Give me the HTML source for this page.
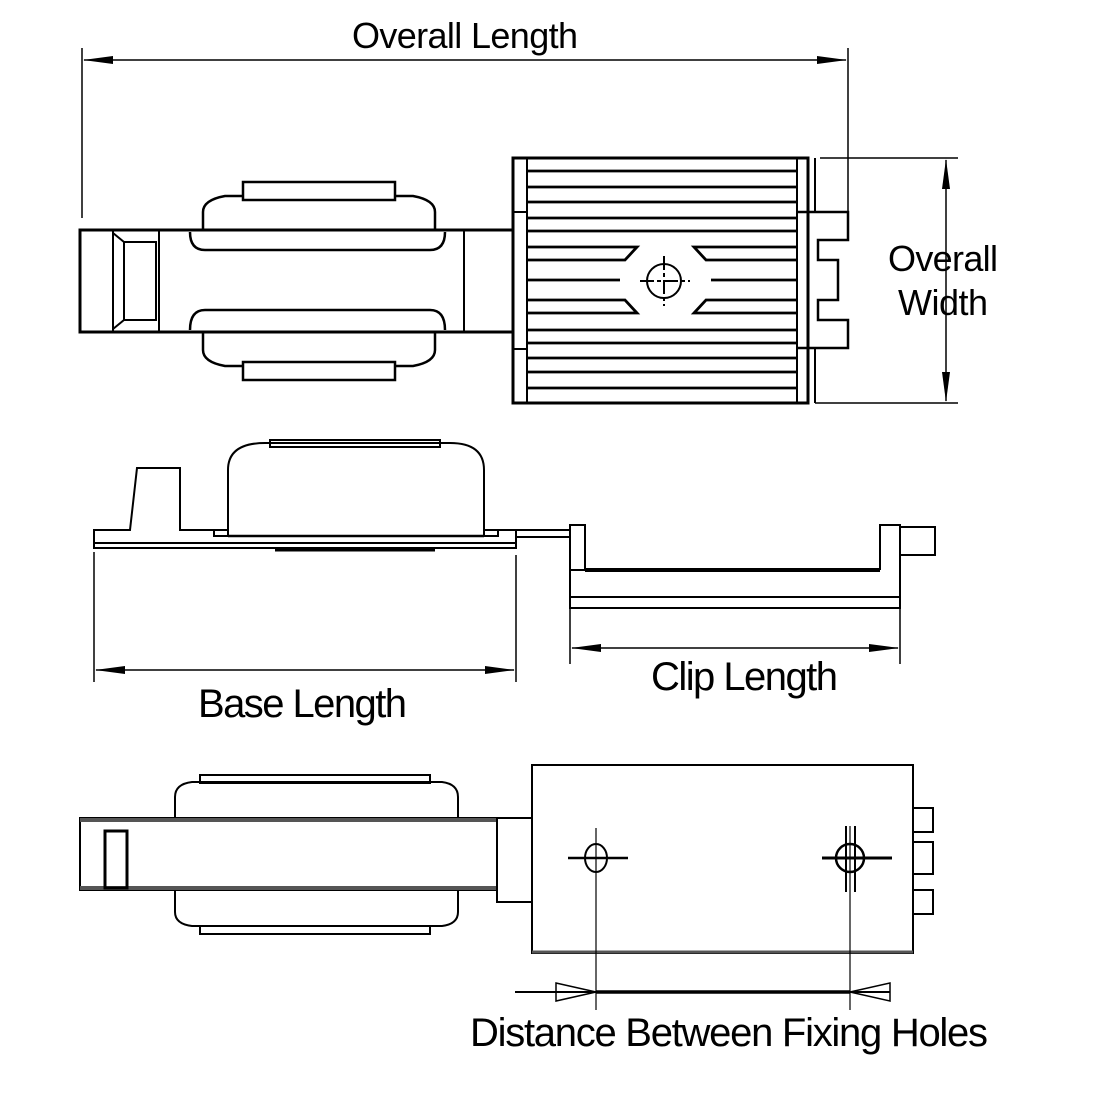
<!DOCTYPE html>
<html><head><style>html,body{margin:0;padding:0;background:#fff}svg{display:block}</style></head>
<body>
<svg width="1100" height="1100" viewBox="0 0 1100 1100" xmlns="http://www.w3.org/2000/svg" font-family="Liberation Sans, sans-serif" fill="none" stroke="#000" stroke-width="2">
<defs>
<marker id="a" markerWidth="30" markerHeight="10" refX="29" refY="5" orient="auto-start-reverse" markerUnits="userSpaceOnUse"><path d="M0,1 L30,5 L0,9 Z" fill="#000" stroke="none"/></marker>
</defs>
<line x1="82" y1="48" x2="82" y2="218" stroke-width="1.5"/>
<line x1="848" y1="48" x2="848" y2="212" stroke-width="1.5"/>
<line x1="84" y1="60" x2="846" y2="60" stroke-width="1.5" marker-start="url(#a)" marker-end="url(#a)"/>
<text x="352" y="48" font-size="36" fill="#000" stroke="none" textLength="226">Overall Length</text>
<line x1="820" y1="158" x2="958" y2="158" stroke-width="1.5"/>
<line x1="815" y1="403" x2="958" y2="403" stroke-width="1.5"/>
<line x1="946" y1="160" x2="946" y2="401" stroke-width="1.5" marker-start="url(#a)" marker-end="url(#a)"/>
<text x="888" y="271" font-size="36" fill="#000" stroke="none" textLength="110">Overall</text>
<text x="898" y="315" font-size="36" fill="#000" stroke="none" textLength="90">Width</text>

<rect x="80" y="230" width="433" height="102" stroke-width="3"/>
<line x1="464" y1="230" x2="464" y2="332"/>
<rect x="113" y="230" width="46" height="102"/>
<rect x="124" y="242" width="32" height="78"/>
<line x1="113" y1="233" x2="124" y2="242"/><line x1="113" y1="329" x2="124" y2="320"/>
<path d="M203,230 V212 Q203,200 225,196 H243 M435,230 V212 Q435,200 413,196 H395" stroke-width="2.5"/>
<rect x="243" y="182" width="152" height="18" stroke-width="2.5"/>
<line x1="203" y1="230" x2="435" y2="230" stroke-width="3"/>
<path d="M190,232 Q190,250 205,250 H430 Q445,250 445,232" stroke-width="2.5"/>
<path d="M190,330 Q190,310 205,310 H430 Q445,310 445,330" stroke-width="2.5"/>
<path d="M203,332 V350 Q203,362 225,366 H243 M435,332 V350 Q435,362 413,366 H395" stroke-width="2.5"/>
<rect x="243" y="362" width="152" height="18" stroke-width="2.5"/>

<rect x="513" y="158" width="295" height="245" stroke-width="3"/>
<rect x="513" y="158" width="14" height="245"/>
<line x1="513" y1="212" x2="527" y2="212"/><line x1="513" y1="349" x2="527" y2="349"/>
<line x1="797" y1="158" x2="797" y2="403"/>
<line x1="815" y1="158" x2="815" y2="212"/><line x1="815" y1="349" x2="815" y2="403"/>
<path d="M797,212 H848 V240 H818 V260 H838 V300 H818 V320 H848 V348 H797" stroke-width="2.5"/>
<g stroke-width="2.8">
<line x1="527" y1="171" x2="797" y2="171"/>
<line x1="527" y1="187" x2="797" y2="187"/>
<line x1="527" y1="202" x2="797" y2="202"/>
<line x1="527" y1="218" x2="797" y2="218"/>
<line x1="527" y1="231" x2="797" y2="231"/>
<path d="M527,247 H637 L625,260 H527 M797,247 H694 L706,260 H797"/>
<path d="M527,280 H620 M797,280 H711"/>
<path d="M527,300 H625 L637,313 H527 M797,300 H706 L694,313 H797"/>
<line x1="527" y1="330" x2="797" y2="330"/>
<line x1="527" y1="343" x2="797" y2="343"/>
<line x1="527" y1="358" x2="797" y2="358"/>
<line x1="527" y1="372" x2="797" y2="372"/>
<line x1="527" y1="388" x2="797" y2="388"/>
</g>
<circle cx="664" cy="281" r="17"/>
<line x1="640" y1="281" x2="690" y2="281" stroke-dasharray="14,3,4,3"/>
<line x1="664" y1="256" x2="664" y2="306" stroke-dasharray="14,3,4,3"/>

<path d="M94,548 V530 H130 L137,468 H180 V530 H228 V470 Q228,443 265,443 H450 Q484,443 484,470 V530 H516 V548 Z" stroke-width="2"/>
<line x1="94" y1="543" x2="516" y2="543"/>
<line x1="228" y1="536" x2="484" y2="536" stroke-width="2.5"/>
<rect x="270" y="440" width="170" height="7"/>
<rect x="214" y="530" width="14" height="6"/><rect x="484" y="530" width="14" height="6"/>
<line x1="275" y1="550" x2="435" y2="550" stroke-width="3"/>
<rect x="516" y="530" width="54" height="7"/>
<path d="M570,570 V525 H585 V570 Z M880,570 V525 H900 V570 M900,527 H935 V555 H900" stroke-width="2"/>
<line x1="585" y1="570" x2="880" y2="570" stroke-width="4"/>
<path d="M570,570 V608 H900 V570"/>
<line x1="570" y1="597" x2="900" y2="597"/>
<line x1="94" y1="552" x2="94" y2="682" stroke-width="1.5"/>
<line x1="516" y1="555" x2="516" y2="682" stroke-width="1.5"/>
<line x1="96" y1="670" x2="514" y2="670" stroke-width="1.5" marker-start="url(#a)" marker-end="url(#a)"/>
<text x="198" y="717" font-size="40" fill="#000" stroke="none" textLength="209">Base Length</text>
<line x1="570" y1="608" x2="570" y2="664" stroke-width="1.5"/>
<line x1="900" y1="608" x2="900" y2="664" stroke-width="1.5"/>
<line x1="572" y1="648" x2="898" y2="648" stroke-width="1.5" marker-start="url(#a)" marker-end="url(#a)"/>
<text x="651" y="690" font-size="40" fill="#000" stroke="none" textLength="187">Clip Length</text>

<rect x="80" y="818" width="417" height="72" stroke-width="2"/>
<line x1="80" y1="820" x2="497" y2="820" stroke-width="4" stroke="#555"/>
<line x1="80" y1="888" x2="497" y2="888" stroke-width="4" stroke="#555"/>
<rect x="105" y="831" width="22" height="57" stroke-width="3"/>
<path d="M175,818 V797 Q175,784 192,782 H442 Q458,784 458,797 V818"/>
<rect x="200" y="775" width="230" height="8"/>
<path d="M175,890 V912 Q175,924 192,926 H442 Q458,924 458,912 V890"/>
<rect x="200" y="926" width="230" height="8"/>
<rect x="497" y="818" width="35" height="84"/>
<rect x="532" y="765" width="381" height="188" stroke-width="2"/>
<line x1="532" y1="952" x2="913" y2="952" stroke-width="3" stroke="#555"/>
<rect x="913" y="808" width="20" height="24"/><rect x="913" y="842" width="20" height="32"/><rect x="913" y="890" width="20" height="24"/>
<ellipse cx="596" cy="858" rx="11" ry="14"/>
<line x1="568" y1="858" x2="628" y2="858" stroke-width="2.5"/>
<line x1="596" y1="828" x2="596" y2="1010" stroke-width="1.2"/>
<ellipse cx="850" cy="858" rx="14" ry="14" stroke-width="2.5"/>
<line x1="822" y1="858" x2="892" y2="858" stroke-width="3"/>
<line x1="846" y1="826" x2="846" y2="892"/><line x1="855" y1="826" x2="855" y2="892"/>
<line x1="850" y1="826" x2="850" y2="1010" stroke-width="1.2"/>
<line x1="515" y1="992" x2="890" y2="992" stroke-width="2"/>
<line x1="596" y1="992" x2="850" y2="992" stroke-width="3.5"/>
<path d="M556,983 L596,992 L556,1001 Z" stroke-width="1.5"/>
<path d="M890,983 L850,992 L890,1001 Z" stroke-width="1.5"/>
<text x="470" y="1046" font-size="40" fill="#000" stroke="none" textLength="518">Distance Between Fixing Holes</text>
</svg>
</body></html>
